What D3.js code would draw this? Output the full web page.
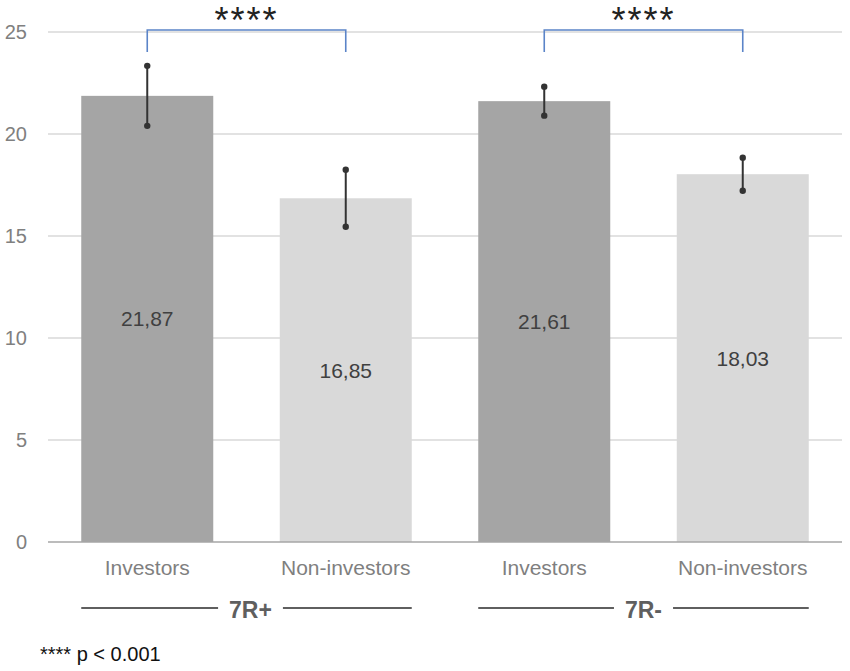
<!DOCTYPE html>
<html>
<head>
<meta charset="utf-8">
<script src="https://cdn.jsdelivr.net/npm/d3@7"></script>
<style>
  html, body { margin: 0; padding: 0; background: #fff; }
  svg { display: block; font-family: "Liberation Sans", Arial, sans-serif; }
</style>
</head>
<body>
<svg id="chart" width="850" height="671"></svg>
<script>
// ---- data ----
const categories = ["Investors", "Non-investors", "Investors", "Non-investors"];
const groups = ["7R+", "7R-"];
const means = [21.87, 16.85, 21.61, 18.03];
const meanLabels = ["21,87", "16,85", "21,61", "18,03"];
const errors = [1.47, 1.40, 0.71, 0.81];
const barColors = ["#a5a5a5", "#d9d9d9", "#a5a5a5", "#d9d9d9"];
const yTicks = [0, 5, 10, 15, 20, 25];
const comparisons = [[0, 1], [2, 3]];
const sigLabel = "****";
const footnote = "**** p < 0.001";

// ---- layout ----
const svg = d3.select("#chart");
const plotLeft = 48, plotRight = 842, plotTop = 32, plotBottom = 542;

const keys = categories.map((c, i) => i);
const x = d3.scaleBand().domain(keys).range([plotLeft, plotRight]).paddingInner(0.335).paddingOuter(0.1675);
const y = d3.scaleLinear().domain([0, 25]).range([plotBottom, plotTop]);

// gridlines
svg.append("g").selectAll("line").data(yTicks.filter(t => t > 0)).join("line")
  .attr("x1", plotLeft).attr("x2", plotRight)
  .attr("y1", d => y(d)).attr("y2", d => y(d))
  .attr("stroke", "#d9d9d9").attr("stroke-width", 1.3);

// y axis labels
const yAxis = d3.axisLeft(y).tickValues(yTicks).tickSize(0).tickPadding(0);
const ya = svg.append("g").attr("transform", `translate(27,0)`).call(yAxis);
ya.select(".domain").remove();
ya.selectAll("text").attr("font-size", 20).attr("fill", "#808080")
  .attr("font-family", "Liberation Sans, Arial, sans-serif");

// bars
svg.append("g").selectAll("rect").data(keys).join("rect")
  .attr("x", i => x(i)).attr("width", x.bandwidth())
  .attr("y", i => y(means[i])).attr("height", i => y(0) - y(means[i]))
  .attr("fill", i => barColors[i]);

// zero axis line
svg.append("line").attr("x1", plotLeft).attr("x2", plotRight)
  .attr("y1", y(0)).attr("y2", y(0))
  .attr("stroke", "#a6a6a6").attr("stroke-width", 1.5);

// error bars
const eb = svg.append("g");
keys.forEach(i => {
  const cx = x(i) + x.bandwidth() / 2;
  const hi = y(means[i] + errors[i]), lo = y(means[i] - errors[i]);
  eb.append("line").attr("x1", cx).attr("x2", cx).attr("y1", hi).attr("y2", lo)
    .attr("stroke", "#333").attr("stroke-width", 2);
  eb.append("circle").attr("cx", cx).attr("cy", hi).attr("r", 3.2).attr("fill", "#333");
  eb.append("circle").attr("cx", cx).attr("cy", lo).attr("r", 3.2).attr("fill", "#333");
});

// value labels (centered in bars)
svg.append("g").selectAll("text").data(keys).join("text")
  .attr("x", i => x(i) + x.bandwidth() / 2)
  .attr("y", i => (y(means[i]) + y(0)) / 2)
  .attr("dy", "0.36em")
  .attr("text-anchor", "middle").attr("font-size", 21).attr("fill", "#404040")
  .text(i => meanLabels[i]);

// x category labels
svg.append("g").selectAll("text").data(keys).join("text")
  .attr("x", i => x(i) + x.bandwidth() / 2)
  .attr("y", 575)
  .attr("text-anchor", "middle").attr("font-size", 21).attr("fill", "#7f7f7f")
  .text(i => categories[i]);

// group labels with lines
groups.forEach((g, gi) => {
  const a = gi * 2, b = gi * 2 + 1;
  const x0 = x(a), x1 = x(b) + x.bandwidth();
  const cx = (x(a) + x(b) + x.bandwidth()) / 2 + (gi === 0 ? 4 : 0);
  const t = svg.append("text").attr("x", cx).attr("y", 618)
    .attr("text-anchor", "middle").attr("font-size", 23).attr("font-weight", "bold")
    .attr("fill", "#5f5f5f").text(g);
  const bb = t.node().getBBox();
  svg.append("line").attr("x1", x0).attr("x2", bb.x - 11).attr("y1", 608).attr("y2", 608)
    .attr("stroke", "#5f5f5f").attr("stroke-width", 2);
  svg.append("line").attr("x1", bb.x + bb.width + 11).attr("x2", x1).attr("y1", 608).attr("y2", 608)
    .attr("stroke", "#5f5f5f").attr("stroke-width", 2);
});

// significance brackets
comparisons.forEach(([a, b]) => {
  const xa = x(a) + x.bandwidth() / 2, xb = x(b) + x.bandwidth() / 2;
  svg.append("path")
    .attr("d", `M${xa},52V30H${xb}V52`)
    .attr("fill", "none").attr("stroke", "#5b84c8").attr("stroke-width", 1.6);
  svg.append("text").attr("x", (xa + xb) / 2).attr("y", 33)
    .attr("text-anchor", "middle").attr("font-size", 36).attr("letter-spacing", 2)
    .attr("fill", "#222").text(sigLabel);
});

// footnote
svg.append("text").attr("x", 40).attr("y", 661)
  .attr("font-size", 20).attr("fill", "#111").text(footnote);
</script>
</body>
</html>
